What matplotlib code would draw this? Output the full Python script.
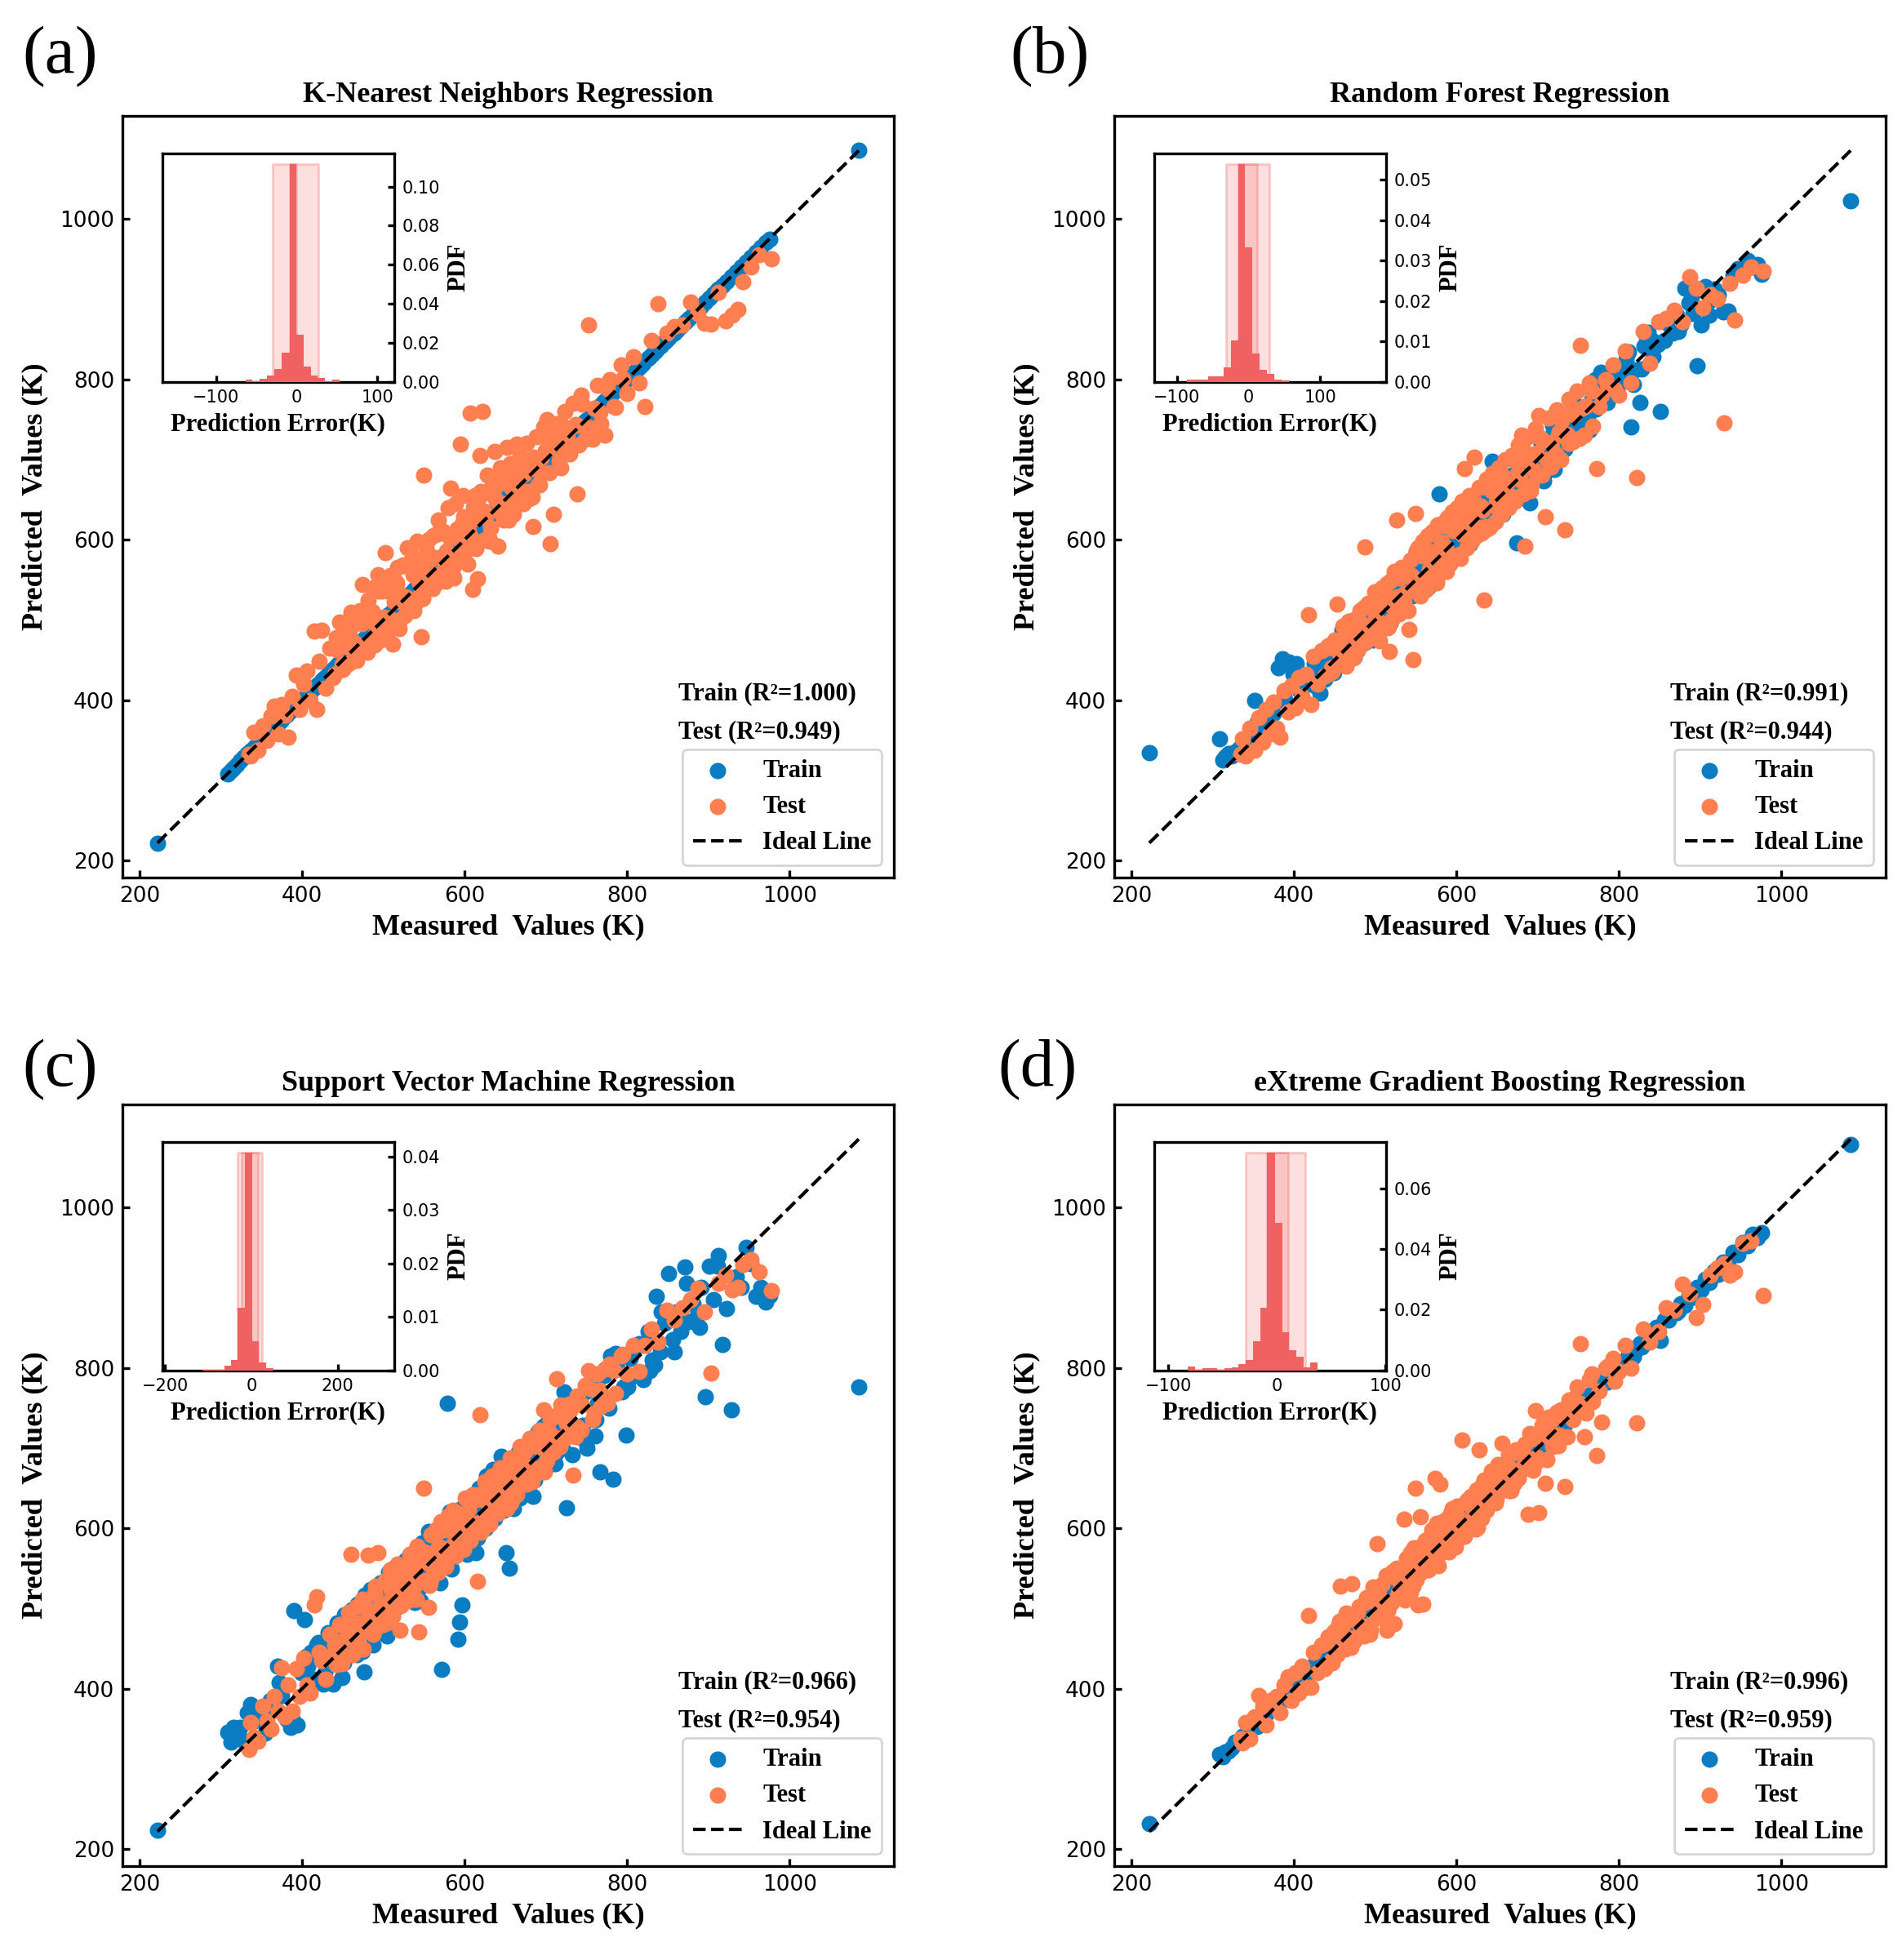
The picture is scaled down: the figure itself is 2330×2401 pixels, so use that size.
import numpy as np
import matplotlib
matplotlib.use("Agg")
import matplotlib.pyplot as plt
from matplotlib.ticker import MultipleLocator

SERIF = "Liberation Serif"
TRAIN_COLOR = "#0a7cc2"
TEST_COLOR = "#ff7f50"
BAR_COLOR = "#f06262"

titles = ["K-Nearest Neighbors Regression", "Random Forest Regression",
          "Support Vector Machine Regression", "eXtreme Gradient Boosting Regression"]
tags = ["(a)", "(b)", "(c)", "(d)"]
r2_train = ["1.000", "0.991", "0.966", "0.996"]
r2_test = ["0.949", "0.944", "0.954", "0.959"]

# measured values (same split for every model)
train_measured = [
    222, 308, 312, 315, 319, 324, 328, 333, 337, 342,
    347, 352, 356, 361, 366, 370, 375, 381, 386, 390,
    394, 399, 403, 407, 411, 416, 420, 424, 428, 432,
    436, 440, 443, 447, 451, 454, 458, 461, 465, 468,
    472, 476, 479, 482, 486, 489, 493, 496, 499, 503,
    506, 510, 513, 517, 520, 523, 527, 530, 534, 537,
    541, 544, 548, 551, 555, 558, 562, 565, 569, 572,
    576, 579, 583, 586, 590, 594, 597, 601, 604, 608,
    611, 615, 618, 622, 626, 629, 633, 637, 640, 644,
    648, 651, 655, 659, 662, 666, 670, 674, 678, 682,
    686, 690, 694, 698, 702, 707, 711, 716, 720, 725,
    730, 735, 740, 745, 750, 756, 761, 767, 772, 778,
    783, 788, 794, 799, 804, 809, 815, 820, 826, 831,
    836, 841, 846, 851, 856, 861, 866, 871, 876, 881,
    886, 891, 896, 901, 906, 911, 917, 922, 928, 934,
    940, 946, 952, 958, 964, 970, 975, 1085,
    445, 462, 478, 491, 505, 515, 528, 539, 549, 560,
    567, 574, 581, 592, 599, 606, 613, 620, 631, 642,
    653, 664, 676, 688, 700, 713, 727, 742, 758, 775,
    418, 426, 434, 449, 456, 466, 474, 484, 494, 501,
    508, 518, 525, 532, 543, 553, 563, 570, 578, 588,
    596, 603, 610, 617, 624, 635, 646, 657, 668, 680,
    692, 704, 718, 732, 748, 764, 780, 796, 812, 828,
    338, 355, 372, 388, 405, 842, 858, 873, 889, 912,
    452, 487, 512, 546, 582, 614, 645, 684, 722, 760,
    425, 438, 446, 459, 467, 477, 485, 497, 504, 514,
    522, 531, 538, 547, 556, 566, 573, 584, 593, 600,
    607, 616, 627, 636, 649, 660, 672, 685, 697, 709,
    719, 733, 746, 759, 771, 786, 801, 818, 834, 848,
]
test_measured = [
    335, 337, 341, 346, 352, 357, 362, 366, 371, 375,
    379, 383, 388, 393, 397, 402, 406, 410, 415, 418,
    421, 424, 429, 434, 438, 442, 446, 450, 453, 457,
    460, 463, 467, 471, 474, 478, 481, 484, 487, 490,
    493, 496, 499, 502, 505, 508, 511, 514, 517, 520,
    523, 526, 529, 532, 535, 538, 541, 544, 547, 550,
    553, 556, 559, 562, 565, 568, 571, 574, 577, 580,
    583, 586, 589, 592, 595, 598, 601, 604, 607, 610,
    613, 616, 619, 622, 625, 628, 631, 634, 637, 641,
    644, 648, 652, 656, 660, 664, 668, 672, 676, 680,
    684, 688, 692, 697, 701, 705, 709, 713, 718, 723,
    728, 733, 738, 743, 748, 752, 757, 763, 768, 773,
    779, 786, 793, 800, 808, 815, 822, 830, 838, 849,
    858, 868, 878, 887, 895, 903, 912, 921, 929, 936, 942, 952, 962, 977,
    455, 468, 476, 486, 497, 507, 516, 527, 537, 548,
    557, 567, 578, 588, 597, 608, 618, 627, 639, 650,
    659, 671, 683, 694, 707, 716, 726, 740,
    443, 449, 458, 464, 470, 475, 483, 489, 494, 500,
    504, 509, 513, 519, 524, 530, 536, 540, 545, 551,
    555, 561, 566, 572, 576, 582, 587, 593, 599, 603,
    609, 614, 620, 626, 632, 638, 643, 649, 654, 658,
    663, 667, 673, 679, 685, 691, 698, 704, 711, 717,
    722, 729, 736, 744, 751, 759, 767, 776, 784, 795,
    440, 447, 456, 462, 473, 480, 491, 498, 507, 515,
    521, 528, 534, 543, 549, 558, 564, 570, 579, 585,
    591, 596, 605, 611, 617, 624, 630, 636, 646, 651,
    657, 665, 675, 682, 690, 699, 712, 725, 738, 754,
]

# predicted values, train set
knn_train_pred = [
    222, 308, 312, 315, 319, 324, 328, 333, 337, 342,
    347, 352, 356, 361, 366, 370, 375, 381, 386, 390,
    394, 399, 403, 407, 411, 416, 420, 424, 428, 432,
    436, 440, 443, 447, 451, 454, 458, 461, 465, 468,
    472, 476, 479, 482, 486, 489, 493, 496, 499, 503,
    506, 510, 513, 517, 520, 523, 527, 530, 534, 537,
    541, 544, 548, 551, 555, 558, 562, 565, 569, 572,
    576, 579, 583, 586, 590, 594, 597, 601, 604, 608,
    611, 615, 618, 622, 626, 629, 633, 637, 640, 644,
    648, 651, 655, 659, 662, 666, 670, 674, 678, 682,
    686, 690, 694, 698, 702, 707, 711, 716, 720, 725,
    730, 735, 740, 745, 750, 756, 761, 767, 772, 778,
    783, 788, 794, 799, 804, 809, 815, 820, 826, 831,
    836, 841, 846, 851, 856, 861, 866, 871, 876, 881,
    886, 891, 896, 901, 906, 911, 917, 922, 928, 934,
    940, 946, 952, 958, 964, 970, 975, 1085,
    445, 462, 478, 491, 505, 515, 528, 539, 549, 560,
    567, 574, 581, 592, 599, 606, 613, 620, 631, 642,
    653, 664, 676, 688, 700, 713, 727, 742, 758, 775,
    418, 426, 434, 449, 456, 466, 474, 484, 494, 501,
    508, 518, 525, 532, 543, 553, 563, 570, 578, 588,
    596, 603, 610, 617, 624, 635, 646, 657, 668, 680,
    692, 704, 718, 732, 748, 764, 780, 796, 812, 828,
    338, 355, 372, 388, 405, 842, 858, 873, 889, 912,
    452, 487, 512, 546, 582, 614, 645, 684, 722, 760,
    425, 438, 446, 459, 467, 477, 485, 497, 504, 514,
    522, 531, 538, 547, 556, 566, 573, 584, 593, 600,
    607, 616, 627, 636, 649, 660, 672, 685, 697, 709,
    719, 733, 746, 759, 771, 786, 801, 818, 834, 848,
]
rf_train_pred = [
    335, 352, 325, 329, 333, 330, 336, 340, 345, 348,
    352, 400, 362, 368, 372, 378, 383, 440, 452, 398,
    447, 432, 445, 412, 416, 420, 425, 430, 433, 409,
    440, 446, 448, 452, 455, 458, 462, 466, 458, 472,
    477, 470, 485, 487, 480, 494, 498, 490, 504, 508,
    500, 516, 518, 510, 526, 529, 521, 536, 540, 530,
    547, 550, 541, 585, 561, 552, 568, 571, 562, 578,
    582, 657, 576, 593, 596, 587, 604, 608, 597, 615,
    618, 608, 625, 629, 619, 636, 640, 630, 648, 698,
    655, 644, 662, 666, 655, 673, 663, 596, 686, 675,
    694, 646, 687, 706, 695, 673, 719, 708, 688, 733,
    722, 743, 733, 753, 742, 764, 753, 775, 763, 809,
    791, 779, 802, 791, 812, 825, 740, 812, 771, 841,
    859, 848, 843, 760, 848, 869, 858, 880, 868, 913,
    895, 882, 817, 868, 915, 880, 912, 905, 884, 885,
    930, 938, 933, 948, 940, 943, 931, 1022,
    450, 470, 472, 498, 512, 509, 535, 533, 556, 553,
    574, 567, 588, 585, 606, 599, 620, 613, 638, 635,
    660, 657, 683, 681, 707, 706, 734, 735, 765, 768,
    430, 418, 456, 434, 461, 484, 454, 492, 519, 491,
    523, 496, 530, 557, 533, 571, 538, 572, 598, 576,
    581, 623, 618, 595, 652, 630, 661, 632, 680, 702,
    672, 719, 743, 720, 756, 736, 798, 788, 834, 813,
    350, 372, 388, 405, 425, 828, 872, 860, 902, 898,
    470, 472, 530, 530, 600, 598, 662, 668, 740, 742,
    445, 426, 454, 487, 449, 482, 500, 475, 529, 509,
    532, 513, 563, 539, 571, 541, 593, 587, 578, 628,
    595, 638, 632, 616, 667, 652, 700, 670, 707, 684,
    734, 713, 768, 749, 799, 771, 809, 793, 852, 843,
]
svr_train_pred = [
    224, 346, 334, 352, 340, 352, 336, 370, 380, 360,
    372, 368, 375, 385, 378, 428, 392, 362, 352, 497,
    355, 420, 486, 428, 445, 412, 458, 440, 420, 470,
    458, 440, 482, 470, 432, 492, 468, 498, 450, 505,
    480, 421, 510, 470, 520, 500, 470, 532, 515, 488,
    545, 522, 498, 552, 536, 508, 560, 541, 515, 570,
    552, 525, 582, 560, 538, 590, 572, 545, 600, 424,
    585, 756, 562, 615, 596, 483, 504, 620, 588, 632,
    618, 590, 650, 628, 600, 660, 640, 612, 672, 650,
    622, 570, 550, 668, 640, 695, 672, 645, 706, 688,
    660, 720, 700, 672, 732, 712, 680, 742, 700, 626,
    752, 715, 760, 728, 700, 778, 735, 670, 790, 750,
    661, 800, 770, 716, 812, 790, 830, 785, 845, 810,
    889, 820, 855, 918, 835, 870, 845, 926, 858, 880,
    865, 900, 764, 927, 885, 927, 829, 874, 748, 913,
    900, 950, 930, 889, 900, 882, 890, 776,
    455, 480, 495, 478, 520, 535, 512, 558, 530, 575,
    552, 595, 600, 462, 615, 590, 632, 600, 648, 625,
    675, 648, 690, 670, 715, 695, 745, 720, 775, 752,
    455, 406, 446, 414, 478, 471, 446, 524, 484, 516,
    478, 543, 533, 514, 578, 548, 578, 532, 600, 576,
    624, 568, 615, 637, 599, 673, 636, 672, 638, 688,
    722, 679, 730, 692, 770, 756, 815, 776, 827, 796,
    375, 345, 408, 362, 440, 870, 820, 905, 850, 940,
    492, 455, 550, 510, 620, 570, 690, 640, 770, 715,
    435, 406, 476, 464, 442, 517, 473, 519, 466, 529,
    514, 563, 508, 562, 596, 546, 578, 549, 618, 585,
    627, 588, 665, 624, 657, 625, 697, 680, 727, 687,
    704, 761, 711, 777, 763, 818, 776, 828, 804, 870,
]
xgb_train_pred = [
    232, 318, 315, 321, 322, 326, 333, 335, 341, 345,
    350, 355, 357, 364, 368, 373, 376, 384, 387, 394,
    396, 403, 405, 410, 413, 419, 422, 427, 430, 436,
    437, 443, 447, 449, 455, 456, 461, 463, 468, 470,
    476, 478, 483, 484, 490, 491, 497, 498, 503, 505,
    510, 512, 517, 519, 524, 525, 531, 532, 538, 539,
    545, 546, 552, 553, 559, 560, 566, 567, 573, 574,
    580, 581, 587, 588, 594, 595, 601, 602, 608, 609,
    615, 616, 622, 623, 630, 630, 637, 638, 644, 645,
    652, 652, 659, 660, 666, 667, 674, 675, 682, 683,
    690, 691, 698, 699, 706, 708, 715, 717, 724, 726,
    734, 736, 744, 746, 754, 757, 765, 768, 776, 779,
    787, 789, 798, 800, 808, 810, 819, 821, 830, 832,
    840, 842, 850, 834, 860, 860, 870, 869, 880, 878,
    890, 888, 900, 897, 910, 906, 921, 917, 932, 928,
    944, 941, 956, 952, 966, 962, 968, 1078,
    449, 464, 482, 493, 509, 517, 532, 541, 553, 562,
    571, 576, 585, 594, 603, 608, 617, 622, 635, 644,
    657, 666, 680, 690, 704, 715, 731, 744, 762, 777,
    421, 424, 437, 447, 460, 463, 478, 481, 498, 499,
    512, 515, 529, 530, 547, 551, 567, 568, 582, 585,
    600, 601, 614, 615, 628, 633, 650, 655, 672, 678,
    696, 702, 722, 730, 752, 762, 784, 794, 816, 826,
    341, 353, 375, 386, 408, 840, 861, 871, 892, 910,
    456, 485, 516, 544, 586, 612, 649, 682, 726, 758,
    430, 432, 452, 455, 472, 473, 490, 493, 508, 511,
    527, 528, 543, 544, 561, 562, 578, 580, 598, 597,
    612, 613, 632, 632, 654, 657, 677, 681, 702, 705,
    724, 729, 751, 755, 776, 782, 806, 814, 839, 845,
]

# predicted values, test set
knn_test_pred = [
    332, 330, 360, 338, 368, 350, 380, 393, 358, 395,
    381, 354, 405, 431, 388, 420, 436, 400, 486, 388,
    448, 487, 415, 465, 428, 478, 497, 438, 490, 445,
    510, 495, 450, 512, 544, 465, 525, 470, 540, 482,
    556, 475, 540, 584, 490, 555, 470, 548, 565, 500,
    568, 505, 590, 515, 580, 520, 598, 525, 479, 680,
    590, 600, 540, 605, 545, 625, 552, 610, 548, 640,
    664, 565, 645, 580, 719, 655, 585, 570, 758, 538,
    655, 551, 705, 760, 600, 680, 598, 672, 710, 592,
    690, 625, 715, 695, 632, 719, 705, 645, 720, 660,
    616, 728, 668, 740, 750, 595, 632, 745, 690, 760,
    710, 770, 657, 780, 725, 868, 725, 792, 745, 730,
    800, 765, 818, 782, 828, 795, 766, 848, 894, 857,
    866, 868, 896, 882, 870, 869, 908, 873, 880, 887, 922, 940, 955, 950,
    467, 506, 468, 511, 502, 487, 546, 529, 512, 566,
    547, 607, 586, 573, 619, 603, 653, 599, 649, 678,
    647, 691, 653, 702, 732, 698, 731, 718,
    463, 444, 486, 472, 458, 510, 498, 469, 536, 503,
    486, 534, 523, 489, 569, 522, 556, 572, 530, 556,
    583, 539, 578, 610, 571, 602, 552, 601, 629, 591,
    624, 589, 660, 628, 614, 666, 635, 671, 624, 670,
    688, 652, 681, 651, 703, 686, 728, 684, 721, 705,
    740, 707, 744, 769, 736, 764, 759, 788, 766, 801,
    432, 477, 471, 450, 495, 460, 499, 536, 502, 540,
    531, 516, 569, 548, 527, 576, 556, 612, 581, 557,
    613, 586, 610, 641, 597, 636, 602, 654, 681, 645,
    665, 693, 660, 697, 668, 711, 732, 715, 743, 739,
]
rf_test_pred = [
    332, 352, 330, 365, 338, 378, 348, 388, 358, 398,
    365, 354, 412, 385, 418, 390, 428, 405, 432, 506,
    395, 455, 420, 462, 430, 468, 440, 475, 520, 448,
    492, 448, 498, 455, 500, 462, 512, 470, 591, 478,
    520, 480, 535, 485, 474, 540, 495, 545, 461, 500,
    560, 624, 508, 565, 522, 562, 488, 575, 451, 633,
    590, 530, 598, 540, 605, 548, 610, 555, 618, 558,
    620, 565, 628, 570, 635, 578, 640, 582, 648, 689,
    590, 655, 598, 703, 605, 665, 608, 525, 675, 615,
    682, 622, 690, 632, 700, 640, 705, 648, 718, 730,
    592, 728, 668, 738, 755, 680, 629, 752, 695, 762,
    700, 612, 775, 722, 785, 842, 730, 795, 742, 689,
    780, 793, 818, 780, 835, 795, 677, 860, 820, 872,
    876, 886, 872, 928, 913, 889, 905, 900, 746, 920, 874, 930, 940, 935,
    460, 490, 461, 516, 489, 519, 491, 529, 555, 536,
    592, 563, 588, 560, 617, 606, 633, 607, 665, 640,
    671, 653, 711, 688, 722, 691, 734, 760,
    433, 467, 462, 442, 498, 470, 495, 474, 519, 502,
    519, 489, 521, 549, 512, 552, 533, 512, 555, 586,
    549, 586, 548, 582, 546, 597, 590, 581, 627, 581,
    629, 606, 652, 611, 637, 613, 661, 647, 666, 640,
    671, 645, 698, 674, 700, 661, 708, 726, 699, 721,
    707, 749, 731, 756, 726, 767, 785, 766, 799, 787,
    465, 435, 464, 480, 453, 483, 521, 490, 519, 490,
    527, 556, 519, 555, 544, 580, 539, 585, 571, 617,
    579, 611, 577, 616, 642, 616, 642, 616, 664, 648,
    679, 655, 683, 657, 705, 729, 700, 730, 720, 764,
]
svr_test_pred = [
    324, 358, 340, 335, 378, 360, 350, 390, 372, 426,
    365, 405, 372, 425, 390, 438, 405, 395, 504, 515,
    445, 435, 412, 468, 442, 430, 480, 460, 440, 495,
    568, 465, 502, 450, 512, 472, 567, 488, 468, 528,
    570, 490, 480, 535, 498, 548, 490, 540, 555, 473,
    550, 532, 510, 568, 525, 512, 578, 471, 568, 650,
    535, 501, 592, 550, 598, 545, 608, 560, 552, 615,
    575, 622, 565, 618, 598, 575, 638, 592, 585, 642,
    605, 534, 742, 598, 658, 615, 605, 665, 628, 618,
    675, 632, 625, 688, 648, 642, 702, 660, 655, 712,
    675, 668, 722, 748, 685, 735, 695, 786, 754, 712,
    755, 666, 765, 722, 778, 796, 735, 792, 752, 798,
    805, 768, 815, 792, 828, 795, 828, 848, 832, 872,
    860, 875, 885, 899, 870, 793, 905, 915, 897, 900, 929, 935, 920, 896,
    473, 463, 504, 471, 507, 485, 520, 552, 527, 563,
    529, 575, 598, 576, 599, 638, 600, 639, 633, 672,
    644, 683, 658, 714, 712, 706, 751, 722,
    451, 431, 480, 459, 482, 450, 498, 519, 484, 502,
    482, 524, 518, 507, 549, 522, 554, 512, 555, 571,
    567, 541, 594, 576, 561, 600, 581, 617, 574, 611,
    599, 636, 595, 634, 647, 620, 671, 644, 666, 636,
    683, 655, 678, 704, 665, 701, 670, 719, 713, 702,
    714, 747, 714, 754, 776, 744, 772, 756, 796, 817,
    455, 437, 481, 442, 478, 498, 476, 506, 535, 510,
    503, 550, 539, 533, 564, 533, 592, 572, 567, 603,
    599, 574, 623, 606, 642, 612, 635, 656, 628, 663,
    632, 675, 697, 674, 705, 681, 740, 730, 726, 774,
]
xgb_test_pred = [
    338, 332, 358, 338, 365, 392, 378, 355, 385, 380,
    390, 370, 405, 415, 385, 420, 395, 428, 402, 491,
    402, 445, 420, 455, 425, 465, 435, 472, 442, 528,
    480, 450, 488, 531, 460, 495, 470, 468, 508, 478,
    468, 518, 488, 581, 515, 530, 498, 473, 540, 508,
    481, 550, 518, 548, 611, 562, 522, 570, 528, 650,
    504, 614, 505, 585, 555, 590, 558, 662, 595, 655,
    608, 575, 612, 580, 625, 585, 628, 595, 710, 590,
    635, 605, 640, 612, 648, 698, 612, 660, 622, 658,
    668, 632, 672, 706, 648, 692, 652, 695, 662, 698,
    705, 617, 715, 747, 619, 728, 656, 738, 702, 745,
    748, 652, 760, 735, 776, 830, 714, 785, 758, 691,
    732, 802, 812, 795, 828, 800, 731, 848, 832, 845,
    875, 872, 904, 892, 863, 879, 915, 925, 930, 915, 920, 955, 958, 890,
    480, 460, 491, 466, 527, 509, 501, 547, 532, 576,
    545, 577, 553, 606, 602, 590, 640, 617, 651, 647,
    679, 656, 691, 672, 732, 719, 716, 755,
    431, 471, 463, 494, 452, 485, 478, 514, 474, 515,
    512, 487, 541, 509, 539, 533, 511, 560, 557, 536,
    577, 556, 548, 584, 606, 570, 592, 618, 577, 613,
    594, 632, 625, 601, 654, 630, 671, 637, 664, 660,
    678, 647, 698, 671, 688, 711, 683, 714, 686, 735,
    712, 741, 714, 762, 756, 744, 792, 771, 799, 783,
    458, 432, 484, 467, 463, 502, 471, 510, 510, 497,
    546, 520, 546, 521, 567, 560, 549, 598, 569, 593,
    571, 611, 610, 599, 639, 599, 640, 654, 638, 679,
    669, 647, 695, 677, 718, 689, 720, 703, 753, 749,
]

# prediction error histograms (bin edges in K, PDF heights)
knn_err_edges = [-63.5, -55, -46, -36.8, -28, -18.6, -9.1, -0.3, 8.1, 17.2, 26, 35.1, 44.3, 53]
knn_err_pdf = [0.0011, 0.0003, 0.0017, 0.0031, 0.0067, 0.0150, 0.1115,
               0.0243, 0.0076, 0.0031, 0.0019, 0.0004, 0.0011]
rf_err_edges = [-86.3, -76.3, -66.4, -56.5, -45.8, -34.7, -24, -14.5, -5,
                5.3, 15.3, 25.6, 35.9, 46.6, 56.1]
rf_err_pdf = [0.0005, 0.0005, 0.0005, 0.0013, 0.0013, 0.0035, 0.0103,
              0.0539, 0.0332, 0.0071, 0.0030, 0.0019, 0.0006, 0.0003]
svr_err_edges = [-113.4, -96.6, -79.8, -63, -47.2, -31.5, -14.5, 1.9, 17.6, 34.6, 51]
svr_err_pdf = [0.00015, 0.00015, 0.00015, 0.0008, 0.0019, 0.0117, 0.0407,
               0.0054, 0.0015, 0.0004]
xgb_err_edges = [-82.4, -75.6, -68.8, -62, -55.4, -48.6, -41.8, -35.3, -28.5, -21.9,
                 -15.1, -8.8, -2, 4.8, 11.3, 17.6, 24.4, 30.7, 37.8]
xgb_err_pdf = [0.0012, 0.0002, 0.0006, 0.0006, 0.0002, 0.0006, 0.0011, 0.0020, 0.0033,
               0.0096, 0.0207, 0.0719, 0.0487, 0.0127, 0.0067, 0.0046, 0.0009, 0.0025]

# shaded error bands (outer, inner)
knn_bands = [(-29.7, 26.7), (-9.0, -1.0)]
rf_bands = [(-31.7, 29.4), (-14.5, 11.5)]
svr_bands = [(-32.8, 23.9), (-23.3, 15.7)]
xgb_bands = [(-28.5, 25.9), (-8.8, 10.0)]

panels = [
    (knn_train_pred, knn_test_pred, knn_err_edges, knn_err_pdf, knn_bands, (-166.6, 120.6), 100, 0.02),
    (rf_train_pred, rf_test_pred, rf_err_edges, rf_err_pdf, rf_bands, (-131.3, 191.6), 100, 0.01),
    (svr_train_pred, svr_test_pred, svr_err_edges, svr_err_pdf, svr_bands, (-206.3, 330.4), 200, 0.01),
    (xgb_train_pred, xgb_test_pred, xgb_err_edges, xgb_err_pdf, xgb_bands, (-112.8, 100.3), 100, 0.02),
]

W, H = 2330, 2401
fig = plt.figure(figsize=(W / 200, H / 200), dpi=200)

ax_rects = [
    [150 / W, 1 - 1075 / H, 945 / W, 933 / H],
    [1365 / W, 1 - 1075 / H, 945 / W, 933 / H],
    [150 / W, 1 - 2286 / H, 945 / W, 933 / H],
    [1365 / W, 1 - 2286 / H, 945 / W, 933 / H],
]
tag_pos = [(27 / W, 1 - 70 / H), (1237 / W, 1 - 70 / H),
           (27 / W, 1 - 1311 / H), (1222 / W, 1 - 1311 / H)]

label_font = dict(family=SERIF, weight="bold", size=13)
small_font = dict(family=SERIF, weight="bold", size=11)
legend_font = dict(family=SERIF, weight="bold", size=11)

for i, (tr_pred, te_pred, edges, pdf, bands, err_lim, xstep, ystep) in enumerate(panels):
    ax = fig.add_axes(ax_rects[i])
    ax.scatter(train_measured, tr_pred, s=52, color=TRAIN_COLOR, linewidths=0,
               label="Train", zorder=2)
    ax.scatter(test_measured, te_pred, s=52, color=TEST_COLOR, linewidths=0,
               label="Test", zorder=3)
    lo = min(train_measured + test_measured)
    hi = max(train_measured + test_measured)
    ax.plot([lo, hi], [lo, hi], color="black", ls="--", lw=1.5, label="Ideal Line", zorder=4)

    ax.xaxis.set_major_locator(MultipleLocator(200))
    ax.yaxis.set_major_locator(MultipleLocator(200))
    ax.tick_params(direction="in", length=3.2, width=1.2, labelsize=9.5)
    for sp in ax.spines.values():
        sp.set_linewidth(1.2)
    ax.set_xlabel("Measured  Values (K)", fontdict=label_font, labelpad=3)
    ax.set_ylabel("Predicted  Values (K)", fontdict=label_font, labelpad=5)
    ax.set_title(titles[i], fontdict=label_font, pad=6)

    ax.text(0.721, 0.241, "Train (R\u00b2=%s)" % r2_train[i], transform=ax.transAxes,
            ha="left", va="center", fontdict=legend_font)
    ax.text(0.721, 0.191, "Test (R\u00b2=%s)" % r2_test[i], transform=ax.transAxes,
            ha="left", va="center", fontdict=legend_font)
    ax.legend(loc="lower right", prop=legend_font)

    fig.text(tag_pos[i][0], tag_pos[i][1], tags[i], family=SERIF, fontsize=30,
             ha="left", va="center")

    # inset: error distribution
    ins = ax.inset_axes([0.052, 0.651, 0.30, 0.30])
    top = max(pdf)
    for lo_b, hi_b in bands:
        ins.fill_between([lo_b, hi_b], 0, top, facecolor=(0.94, 0.38, 0.38, 0.2),
                         edgecolor=(0.94, 0.38, 0.38, 0.3), lw=1, zorder=1)
    ins.bar(edges[:-1], pdf, width=np.diff(edges), align="edge", color=BAR_COLOR,
            linewidth=0, zorder=3)
    ins.set_xlim(err_lim)
    ins.xaxis.set_major_locator(MultipleLocator(xstep))
    ins.yaxis.set_major_locator(MultipleLocator(ystep))
    ins.yaxis.tick_right()
    ins.yaxis.set_label_position("right")
    ins.tick_params(direction="in", length=3, width=1.2, labelsize=7.5)
    for sp in ins.spines.values():
        sp.set_linewidth(1.2)
    ins.set_xlabel("Prediction Error(K)", fontdict=small_font, labelpad=3)
    ins.set_ylabel("PDF", fontdict=small_font, labelpad=3)

fig.savefig("out.png", dpi=200)
